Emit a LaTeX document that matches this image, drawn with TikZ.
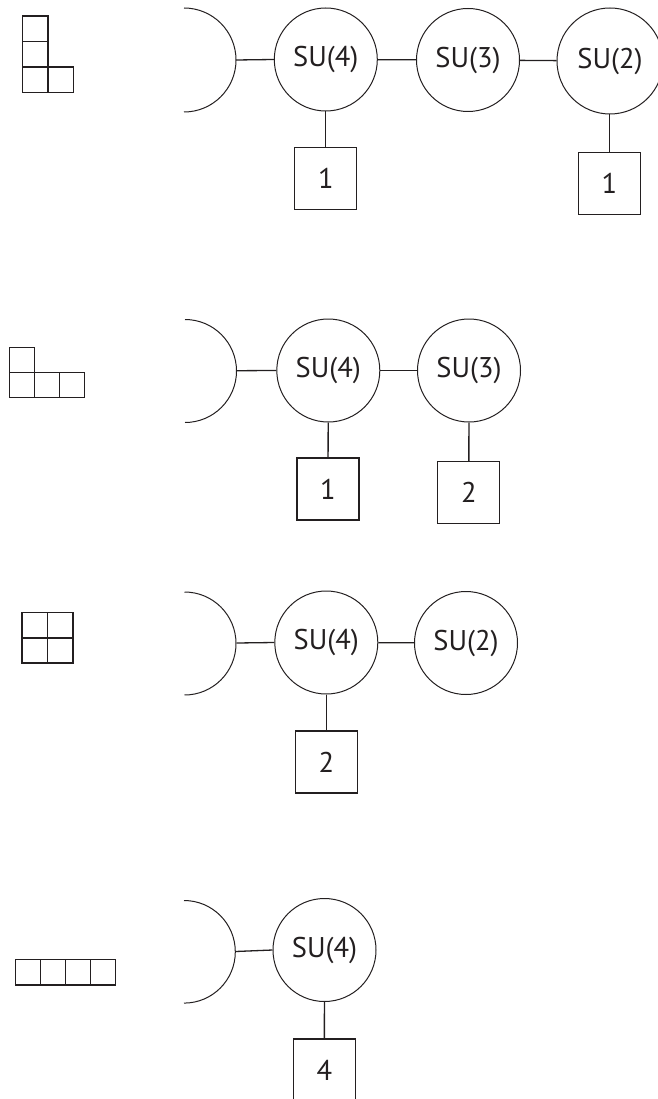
\documentclass[tikz,border=0pt]{standalone}
\usepackage{fontspec}
\setmainfont{PT Sans}
\definecolor{ink}{HTML}{231F20}
\tikzset{
  gauge/.style={circle, draw=ink, line width=1pt, minimum size=103pt, inner sep=0pt,
    text=ink, font=\fontsize{28.5}{30}\selectfont},
  flav/.style={rectangle, draw=ink, line width=1.3pt, minimum size=62pt, inner sep=0pt,
    text=ink, font=\fontsize{28.5}{30}\selectfont},
  link/.style={draw=ink, line width=1.3pt},
  halfc/.style={draw=ink, line width=1pt},
  young/.style={draw=ink, line width=1.4pt}
}
\begin{document}
\begin{tikzpicture}[x=1pt,y=-1pt]
\useasboundingbox (0,0) rectangle (657,1099);

% ---------------- Row 1 ----------------
\draw[young] (22.3,16) rectangle (47.9,41.6);
\draw[young] (22.3,41.6) rectangle (47.9,67.2);
\draw[young] (22.3,67.2) rectangle (47.9,92.8);
\draw[young] (47.9,67.2) rectangle (73.5,92.8);

\coordinate (h1) at (184,60);
\coordinate (h1t) at (184,8);
\coordinate (h1r) at (236,60);
\draw[halfc] (h1t) arc[start angle=-90, end angle=90, radius=52];

\node[gauge] (a4) at (325.8,59.5) {SU(4)};
\node[gauge] (a3) at (468,60) {SU(3)};
\node[gauge, minimum size=106pt] (a2) at (610,61) {SU(2)};
\node[flav] (af1) at (325.8,178.5) {1};
\node[flav] (af2) at (609.5,183.5) {1};

\draw[link] (h1r) -- (a4.west);
\draw[link] (a4) -- (a3);
\draw[link] (a3) -- (a2);
\draw[link] (a4) -- (af1);
\draw[link] (a2.south -| af2.north) -- (af2.north);

% ---------------- Row 2 ----------------
\draw[young] (9.2,347.7) rectangle (34.2,372.7);
\draw[young] (9.2,372.7) rectangle (34.2,397.7);
\draw[young] (34.2,372.7) rectangle (59.2,397.7);
\draw[young] (59.2,372.7) rectangle (84.2,397.7);

\coordinate (h2t) at (185,319.5);
\coordinate (h2r) at (236.5,370.7);
\draw[halfc] (h2t) arc[start angle=-90, end angle=90, radius=51.5];

\node[gauge] (b4) at (328.3,370.5) {SU(4)};
\node[gauge] (b3) at (469,370.5) {SU(3)};
\node[flav] (bf1) at (328,489) {1};
\node[flav] (bf2) at (468.8,492.5) {2};

\draw[link] (h2r) -- (b4.west);
\draw[link] (b4) -- (b3);
\draw[link] (b4) -- (bf1);
\draw[link] (b3) -- (bf2);

% ---------------- Row 3 ----------------
\draw[young] (22,612.7) rectangle (47.5,637.9);
\draw[young] (47.5,612.7) rectangle (73,637.9);
\draw[young] (22,637.9) rectangle (47.5,662.9);
\draw[young] (47.5,637.9) rectangle (73,662.9);

\coordinate (h3t) at (184.5,592);
\coordinate (h3r) at (236.5,643);
\draw[halfc] (h3t) arc[start angle=-90, end angle=90, radius=51.5];

\node[gauge] (c4) at (326.3,642.5) {SU(4)};
\node[gauge] (c2) at (466,643) {SU(2)};
\node[flav] (cf1) at (326.3,762) {2};

\draw[link] (h3r) -- (c4.west);
\draw[link] (c4) -- (c2);
\draw[link] (c4) -- (cf1);

% ---------------- Row 4 ----------------
\draw[young] (15.5,959.5) rectangle (40.5,985);
\draw[young] (40.5,959.5) rectangle (65.5,985);
\draw[young] (65.5,959.5) rectangle (90.5,985);
\draw[young] (90.5,959.5) rectangle (115.5,985);

\coordinate (h4t) at (184,900.5);
\coordinate (h4r) at (235.5,951.5);
\draw[halfc] (h4t) arc[start angle=-90, end angle=90, radius=51.3];

\node[gauge] (d4) at (324.5,950) {SU(4)};
\node[flav] (df1) at (324.3,1070) {4};

\draw[link] (h4r) -- (d4.west);
\draw[link] (d4) -- (df1);
\end{tikzpicture}
\end{document}
